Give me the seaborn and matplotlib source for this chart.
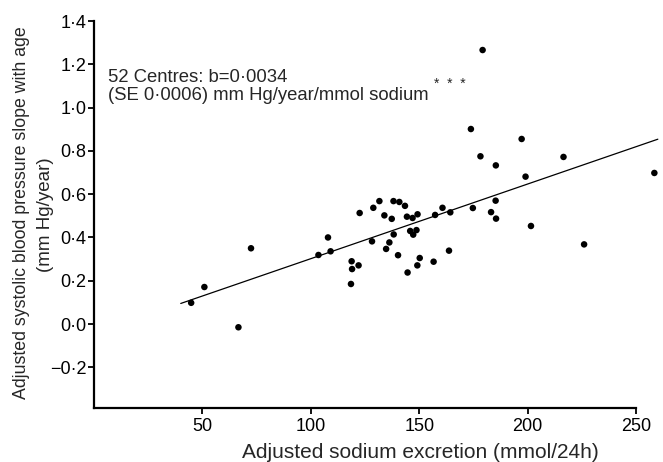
import matplotlib
matplotlib.use('Agg')
import matplotlib.pyplot as plt
import numpy as np
import pandas as pd
import seaborn as sns

# Adjusted sodium excretion (mmol/24h) per centre
sodium = [44.8, 50.9, 66.6, 72.4, 103.5, 107.9, 109.1, 118.8, 119.0, 118.5,
          122.0, 122.5, 128.2, 128.8, 131.6, 133.9, 134.7, 136.2, 137.3, 138.2,
          138.1, 140.8, 140.2, 143.4, 144.3, 144.6, 146.9, 149.2, 145.8, 148.7,
          147.2, 149.1, 150.2, 156.6, 157.3, 160.7, 164.3, 163.7, 174.7, 173.8,
          178.2, 179.2, 183.1, 185.2, 185.4, 185.3, 197.2, 199.0, 201.5, 216.5,
          226.0, 258.4]

# Adjusted systolic BP slope with age (mm Hg/year)
bp_slope = [0.098, 0.171, -0.015, 0.350, 0.319, 0.400, 0.336, 0.290, 0.254, 0.185,
            0.271, 0.513, 0.382, 0.537, 0.568, 0.502, 0.347, 0.377, 0.486, 0.414,
            0.568, 0.564, 0.318, 0.546, 0.496, 0.238, 0.490, 0.507, 0.430, 0.434,
            0.413, 0.271, 0.305, 0.288, 0.504, 0.537, 0.516, 0.339, 0.536, 0.901,
            0.775, 1.266, 0.517, 0.570, 0.487, 0.733, 0.855, 0.681, 0.453, 0.772,
            0.368, 0.698]

# regression line
fit_range = [40, 260]
fit_slope = 0.00345
fit_icept = -0.043

x_ticks = [50, 100, 150, 200, 250]
y_ticks = [-0.2, 0.0, 0.2, 0.4, 0.6, 0.8, 1.0, 1.2, 1.4]
y_tick_labels = ['\u22120\u00b72', '0\u00b70', '0\u00b72', '0\u00b74', '0\u00b76',
                 '0\u00b78', '1\u00b70', '1\u00b72', '1\u00b74']

sns.set_style('white')
plt.rcParams['font.family'] = ['Liberation Sans', 'DejaVu Sans']

df = pd.DataFrame({'sodium': sodium, 'slope': bp_slope})

fig = plt.figure(figsize=(6.63, 4.62), dpi=100)
ax = fig.add_axes([94 / 663, 54 / 462, 566 / 663, 391.3 / 462])

sns.scatterplot(data=df, x='sodium', y='slope', color='black', s=22,
                edgecolor='none', ax=ax)

line_x = np.array(fit_range, dtype=float)
sns.lineplot(x=line_x, y=fit_icept + fit_slope * line_x, color='black',
             linewidth=0.9, ax=ax)

ax.set_xlim(0, 261)
ax.set_ylim(-0.388, 1.42)
ax.set_xticks(x_ticks)
ax.set_xticklabels([str(t) for t in x_ticks])
ax.set_yticks(y_ticks)
ax.set_yticklabels(y_tick_labels)

for side in ['top', 'right']:
    ax.spines[side].set_visible(False)
for side in ['left', 'bottom']:
    ax.spines[side].set_color('black')
    ax.spines[side].set_linewidth(1.6)
ax.spines['left'].set_bounds(-0.388, 1.4)
ax.spines['bottom'].set_bounds(0, 250)

ax.tick_params(axis='both', direction='out', length=4, width=1.3, color='black',
               labelsize=13, labelcolor='black', bottom=True, left=True)
ax.tick_params(axis='y', pad=1.5)
ax.tick_params(axis='x', pad=3)
ax.set_xlabel('')
ax.set_ylabel('')

fig.text(420 / 663, 1 - 452 / 462, 'Adjusted sodium excretion (mmol/24h)',
         ha='center', va='center', fontsize=15)
fig.text(22 / 663, 1 - 213 / 462, 'Adjusted systolic blood pressure slope with age',
         ha='center', va='center', rotation=90, fontsize=12.8)
fig.text(46 / 663, 1 - 215 / 462, '(mm Hg/year)',
         ha='center', va='center', rotation=90, fontsize=13.5)

t1 = fig.text(108 / 663, 1 - 77 / 462, '52 Centres: b=0\u00b70034',
              ha='left', va='center', fontsize=13.3)
t2 = fig.text(108 / 663, 1 - 95 / 462, '(SE 0\u00b70006) mm Hg/year/mmol sodium',
              ha='left', va='center', fontsize=13.3)
ax.annotate('*  *  *', xy=(1, 1), xycoords=t2, xytext=(4, -3),
            textcoords='offset points', ha='left', va='bottom', fontsize=10)

fig.savefig('out.png', dpi=100)
